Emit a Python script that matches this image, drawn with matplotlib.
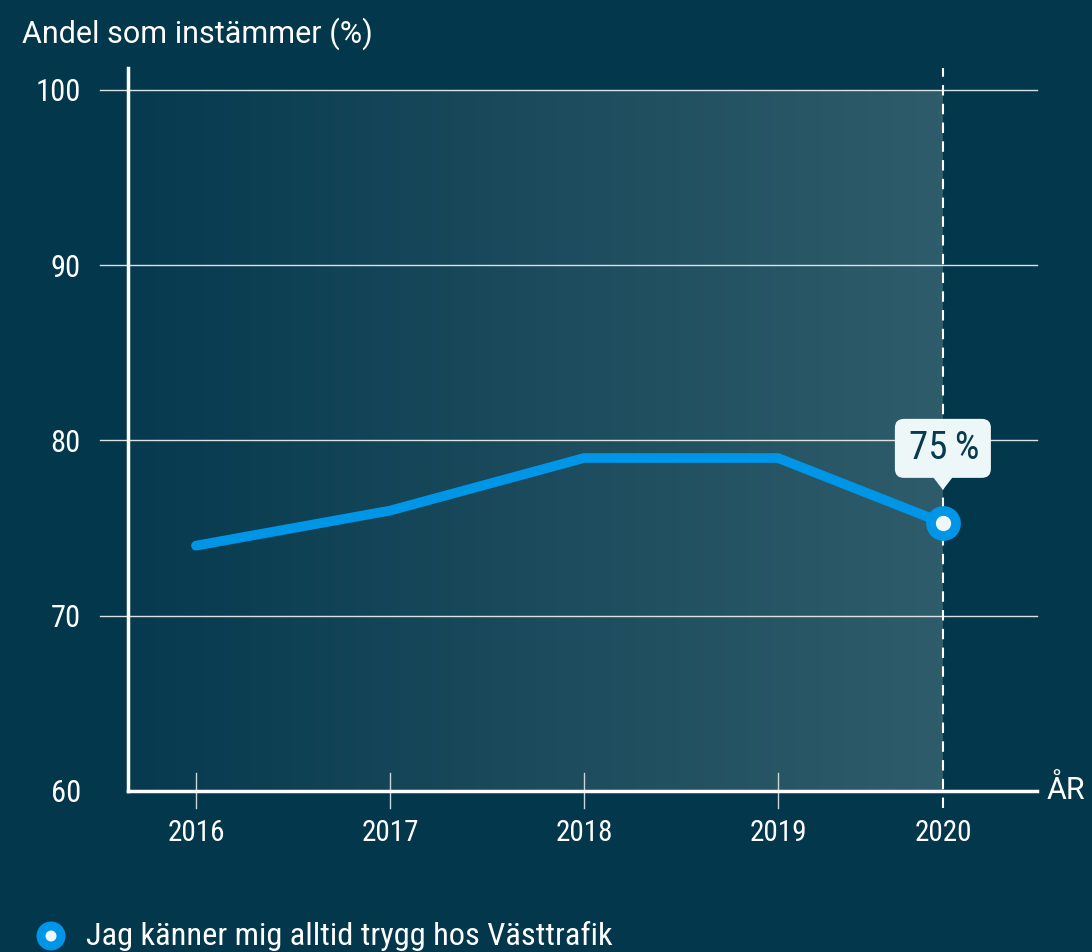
import numpy as np
import matplotlib
matplotlib.use("Agg")
import matplotlib.pyplot as plt
from matplotlib.patches import FancyBboxPatch, Polygon, Circle
from matplotlib.colors import LinearSegmentedColormap
from matplotlib import font_manager

# ---- data ----
years = [2016, 2017, 2018, 2019, 2019.85]
year_labels = ["2016", "2017", "2018", "2019", "2020"]
values = [74, 76, 79, 79, 75.3]
y_ticks = [60, 70, 80, 90, 100]
series_name = "Jag känner mig alltid trygg hos Västtrafik"
y_title = "Andel som instämmer (%)"
x_title = "ÅR"
last_label = "75\u2009%"

# ---- style ----
avail = {f.name for f in font_manager.fontManager.ttflist}
fams = [f for f in ["Roboto Condensed", "Liberation Sans Narrow", "Roboto", "DejaVu Sans"] if f in avail]
wide = [f for f in ["Roboto", "DejaVu Sans"] if f in avail]
plt.rcParams["font.family"] = fams

BG = "#03374b"
BLUE = "#0096e8"
WHITE = "#ffffff"

fig = plt.figure(figsize=(10.92, 9.52), dpi=100, facecolor=BG)
W, H = 1092, 952
x0, x1 = 128, 1037
ytop, ybot = 68, 791
ax = fig.add_axes([x0 / W, 1 - ybot / H, (x1 - x0) / W, (ybot - ytop) / H])
ax.set_facecolor(BG)

xmin = 2016 - 68 / 194
xmax = 2016 + (1037 - 196) / 194
ymin = 60
ymax = 100 + 22 / 17.525
ax.set_xlim(xmin, xmax)
ax.set_ylim(ymin, ymax)

# gradient background region
cmap = LinearSegmentedColormap.from_list("g", ["#073a4f", "#2f5c6a"])
grad = np.linspace(0, 1, 256).reshape(1, -1)
ax.imshow(grad, cmap=cmap, aspect="auto", extent=[xmin, years[-1], ymin, 100],
          zorder=0, interpolation="bicubic")

# grid lines
for yt in y_ticks[1:]:
    ax.plot([xmin - 28 / 194, xmax], [yt, yt], color="#d9e3e6", lw=1.0,
            zorder=1, clip_on=False)

# spines
for s in ["top", "right"]:
    ax.spines[s].set_visible(False)
for s in ["left", "bottom"]:
    ax.spines[s].set_color(WHITE)
    ax.spines[s].set_linewidth(2.5)
    ax.spines[s].set_zorder(3)

ax.set_yticks(y_ticks)
ax.set_yticklabels([str(v) for v in y_ticks])
ax.tick_params(axis="y", length=0, pad=34, labelsize=22, labelcolor=WHITE)
ax.set_xticks(years)
ax.set_xticklabels(year_labels)
ax.tick_params(axis="x", length=0, pad=20, labelsize=21, labelcolor=WHITE)

# x ticks crossing the axis
for xv in years[:-1]:
    ax.plot([xv, xv], [60 - 17 / 17.525, 60 + 18 / 17.525], color="#c9d6da",
            lw=1.0, clip_on=False, zorder=2)

# dashed vertical line at last year
ax.plot([years[-1], years[-1]], [60 - 17 / 17.525, ymax], color=WHITE, lw=1.5,
        ls=(0, (5, 4)), clip_on=False, zorder=2)

# line
ax.plot(years, values, color=BLUE, lw=7, solid_capstyle="round",
        solid_joinstyle="miter", zorder=4)
ax.plot([years[-1]], [values[-1]], "o", ms=24, color=BLUE, zorder=5)
ax.plot([years[-1]], [values[-1]], "o", ms=10, color="#eef7f8", zorder=6)

# annotation box
fig.canvas.draw()
dx, dy = ax.transData.transform((years[-1], values[-1]))
bottom = dy + 45
box = FancyBboxPatch((dx - 48, bottom), 96, 59,
                     boxstyle="round,pad=0,rounding_size=9",
                     transform=None, facecolor="#eef7f7", edgecolor="none",
                     zorder=7, clip_on=False)
fig.patches.append(box)
tri = Polygon([[dx - 10, bottom + 1], [dx + 10, bottom + 1], [dx, bottom - 12]],
              closed=True, transform=None, facecolor="#eef7f7", edgecolor="none",
              zorder=7)
fig.patches.append(tri)
fig.text((dx + 1) / W, (bottom + 29) / H, last_label, ha="center", va="center",
         fontsize=28, color="#063a4e", zorder=8)

# titles
fig.text(22 / W, 1 - 34 / H, y_title, ha="left", va="center", fontsize=22,
         color=WHITE, family=wide)
fig.text(1047 / W, 1 - 790 / H, x_title, ha="left", va="center", fontsize=22,
         color=WHITE, family=wide)

# legend
fig.patches.append(Circle((51, H - 936), 14.5, transform=None, facecolor=BLUE,
                          edgecolor="none"))
fig.patches.append(Circle((51, H - 936), 5.5, transform=None, facecolor="#eef7f8",
                          edgecolor="none"))
fig.text(86 / W, 1 - 936 / H, series_name, ha="left", va="center", fontsize=23.3,
         color=WHITE)

fig.savefig("out.png", dpi=100, facecolor=BG)
